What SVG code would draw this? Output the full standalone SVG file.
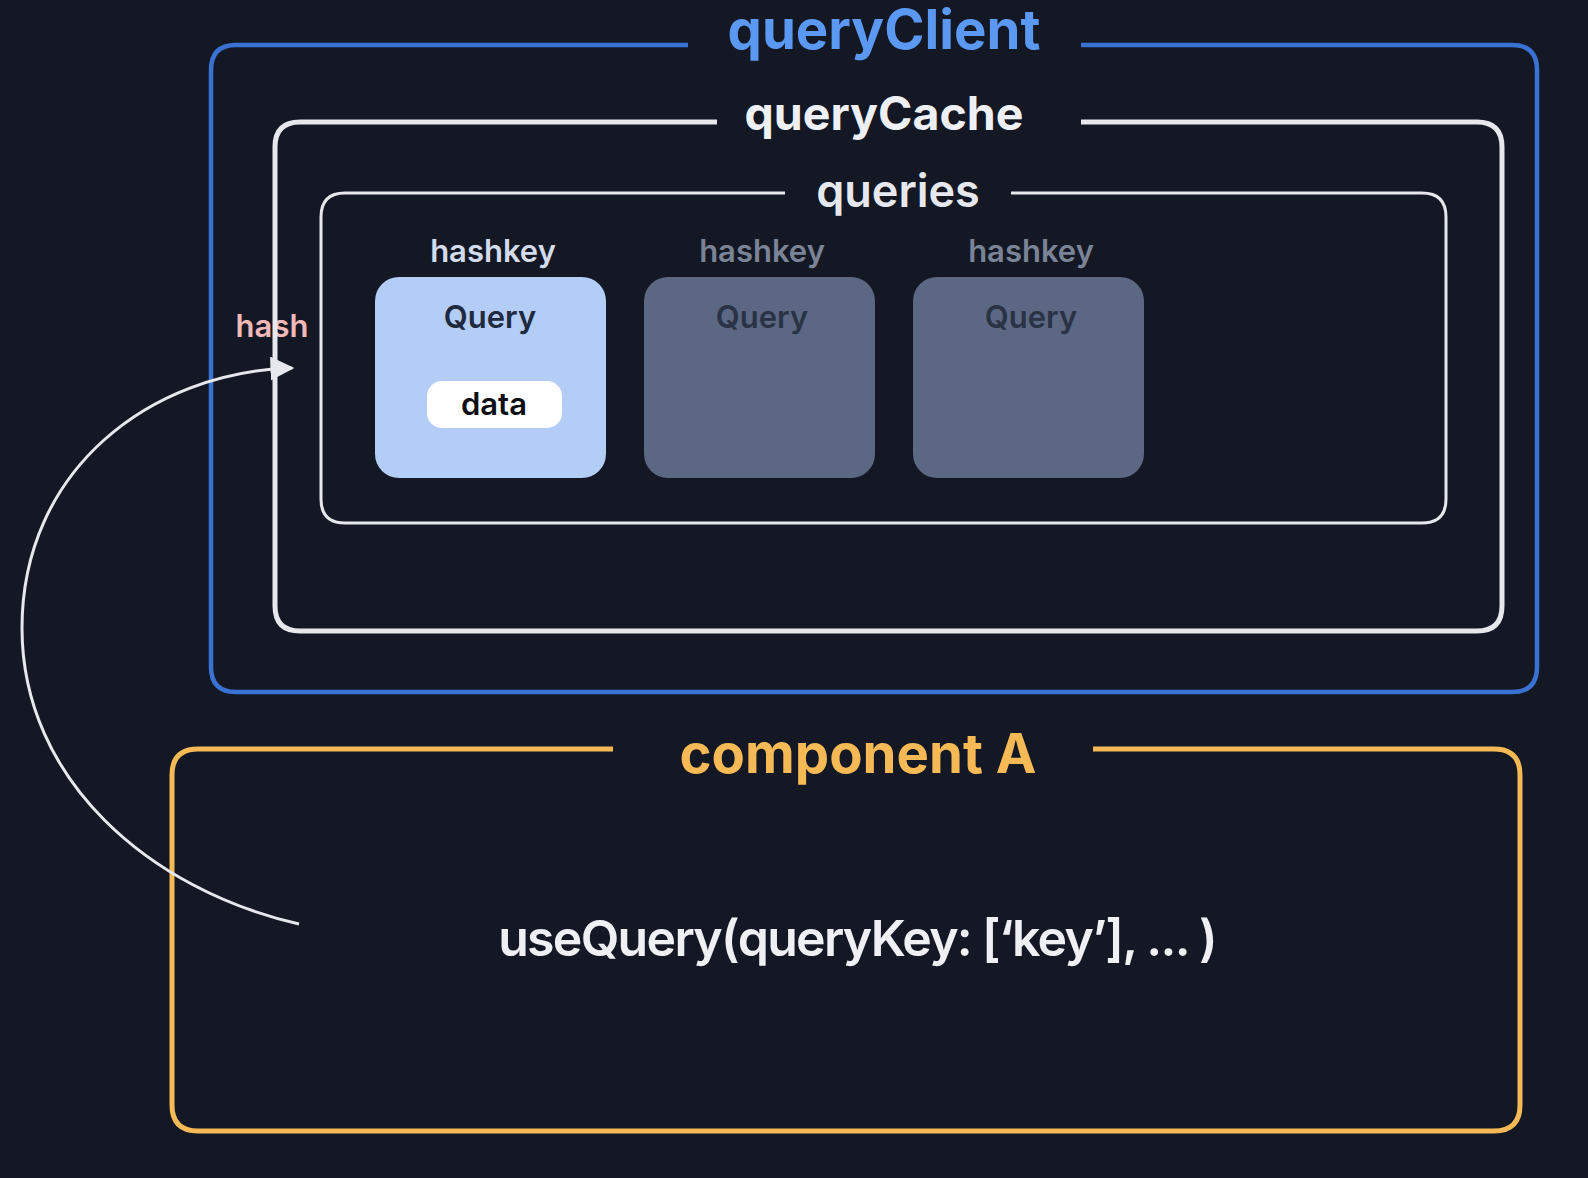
<svg xmlns="http://www.w3.org/2000/svg" width="1588" height="1178" viewBox="0 0 1588 1178">
<defs>
<style>
text{font-family:Inter,"Noto Sans","Liberation Sans",sans-serif;text-anchor:middle}
.frame{fill:none}
.title{font-weight:700}
.lbl{font-weight:600;font-size:31px}
.card{stroke:none}
</style>
<marker id="arr" viewBox="0 0 10 10" refX="9" refY="5" markerWidth="24" markerHeight="24" markerUnits="userSpaceOnUse" orient="auto">
<path d="M0,0 L10,5 L0,10 Z" fill="#e6e8ee"/>
</marker>
</defs>
<rect width="1588" height="1178" fill="#131824"/>

<g id="hash-label">
<text x="272" y="337" class="lbl" fill="#f2b9b9">hash</text>
</g>

<g id="queryClient">
<path class="frame" d="M688,45 H236 Q211,45 211,70 V667 Q211,692 236,692 H1512 Q1537,692 1537,667 V70 Q1537,45 1512,45 H1081" stroke="#3a72d4" stroke-width="4.5"/>
<text x="884" y="49" class="title" font-size="54.5" fill="#5b98f2">queryClient</text>
</g>

<g id="queryCache">
<path class="frame" d="M717,122 H300 Q275,122 275,147 V606 Q275,631 300,631 H1477 Q1502,631 1502,606 V147 Q1502,122 1477,122 H1081" stroke="#e6e8ee" stroke-width="5"/>
<text x="884" y="130" class="title" font-size="46.5" fill="#eef0f4">queryCache</text>
</g>

<g id="queries">
<path class="frame" d="M785,193 H345 Q321,193 321,217 V499 Q321,523 345,523 H1422 Q1446,523 1446,499 V217 Q1446,193 1422,193 H1011" stroke="#e6e8ee" stroke-width="3"/>
<text x="898" y="207" font-size="45" font-weight="600" fill="#e6e8ee">queries</text>
</g>

<g id="query-1">
<text x="493" y="262" class="lbl" fill="#d3dbec">hashkey</text>
<rect class="card" x="375" y="277" width="231" height="201" rx="24" fill="#b3cdf6"/>
<text x="490" y="328" class="lbl" fill="#1f2a3f">Query</text>
<g id="data">
<rect x="427" y="381" width="135" height="47" rx="15" fill="#ffffff"/>
<text x="494" y="415" class="lbl" fill="#0d0f14">data</text>
</g>
</g>

<g id="query-2">
<text x="762" y="262" class="lbl" fill="#7b8396">hashkey</text>
<rect class="card" x="644" y="277" width="231" height="201" rx="24" fill="#5c6883"/>
<text x="762" y="328" class="lbl" fill="#2a3245">Query</text>
</g>

<g id="query-3">
<text x="1031" y="262" class="lbl" fill="#7b8396">hashkey</text>
<rect class="card" x="913" y="277" width="231" height="201" rx="24" fill="#5c6883"/>
<text x="1031" y="328" class="lbl" fill="#2a3245">Query</text>
</g>

<g id="componentA">
<path class="frame" d="M613,749 H198 Q172,749 172,775 V1105 Q172,1131 198,1131 H1494 Q1520,1131 1520,1105 V775 Q1520,749 1494,749 H1093" stroke="#f5b955" stroke-width="5"/>
<text x="858" y="773" class="title" font-size="54.5" fill="#f5b955">component A</text>
<text x="857" y="956" font-size="50" font-weight="600" letter-spacing="-1.7" fill="#eef0f4">useQuery(queryKey: [‘key’], ... )</text>
</g>

<g id="connectors">
<path d="M299,924 C150,890 22,780 22,628 C22,470 150,372 292,368" fill="none" stroke="#e6e8ee" stroke-width="3" marker-end="url(#arr)"/>
</g>
</svg>
